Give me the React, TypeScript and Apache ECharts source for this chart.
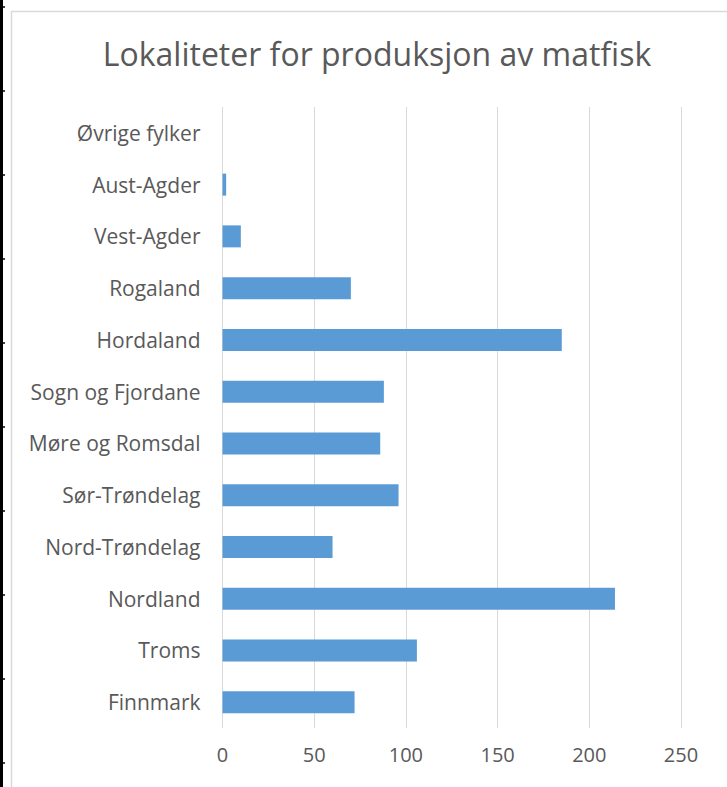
import React, { useEffect, useRef } from "react";
import * as echarts from "echarts";

const categories = [
  "Øvrige fylker",
  "Aust-Agder",
  "Vest-Agder",
  "Rogaland",
  "Hordaland",
  "Sogn og Fjordane",
  "Møre og Romsdal",
  "Sør-Trøndelag",
  "Nord-Trøndelag",
  "Nordland",
  "Troms",
  "Finnmark",
];
const values = [0, 2, 10, 70, 185, 88, 86, 96, 60, 214, 106, 72];
const xTicks = { min: 0, max: 250, interval: 50 };
const titleText = "Lokaliteter for produksjon av matfisk";
const frameTicksY = [7, 91, 175, 259, 343, 427, 511, 595, 679, 763];

export default function App() {
  const ref = useRef<HTMLDivElement>(null);
  useEffect(() => {
    if (!ref.current) return;
    const chart = echarts.init(ref.current, undefined, { renderer: "svg" });
    const font = "'Open Sans', Lato, sans-serif";
    const graphics: any[] = [
      {
        type: "rect",
        shape: { x: 11.5, y: 11.5, width: 800, height: 800 },
        style: { fill: "none", stroke: "#d9d9d9", lineWidth: 1.5 },
        silent: true,
      },
      {
        type: "line",
        shape: { x1: 1.5, y1: 0, x2: 1.5, y2: 787 },
        style: { stroke: "#000", lineWidth: 3 },
        silent: true,
      },
      ...frameTicksY.map((y) => ({
        type: "line",
        shape: { x1: 0, y1: y, x2: 5, y2: y },
        style: { stroke: "#000", lineWidth: 1.5 },
        silent: true,
      })),
    ];
    chart.setOption({
      animation: false,
      backgroundColor: "#ffffff",
      title: {
        text: titleText,
        left: 372,
        textAlign: "center",
        top: 32,
        textStyle: {
          fontFamily: font,
          fontSize: 32,
          fontWeight: "normal",
          color: "#595959",
        },
      },
      graphic: graphics,
      grid: { left: 222.5, right: 46, top: 107, bottom: 59, containLabel: false },
      xAxis: {
        type: "value",
        min: xTicks.min,
        max: xTicks.max,
        interval: xTicks.interval,
        axisLine: { show: false },
        axisTick: { show: false },
        splitLine: { show: true, lineStyle: { color: "#d9d9d9", width: 1 } },
        axisLabel: {
          fontFamily: font,
          fontSize: 20,
          color: "#595959",
          margin: 16,
        },
      },
      yAxis: {
        type: "category",
        data: categories,
        inverse: true,
        axisLine: { show: false },
        axisTick: { show: false },
        splitLine: { show: false },
        axisLabel: {
          fontFamily: font,
          fontSize: 21,
          color: "#595959",
          margin: 22,
        },
      },
      series: [
        {
          type: "bar",
          data: values,
          barWidth: 22,
          itemStyle: { color: "#5b9bd5" },
        },
      ],
    });
    return () => chart.dispose();
  }, []);
  return (
    <div
      ref={ref}
      style={{ position: "fixed", left: 0, top: 0, width: 727, height: 787 }}
    />
  );
}
